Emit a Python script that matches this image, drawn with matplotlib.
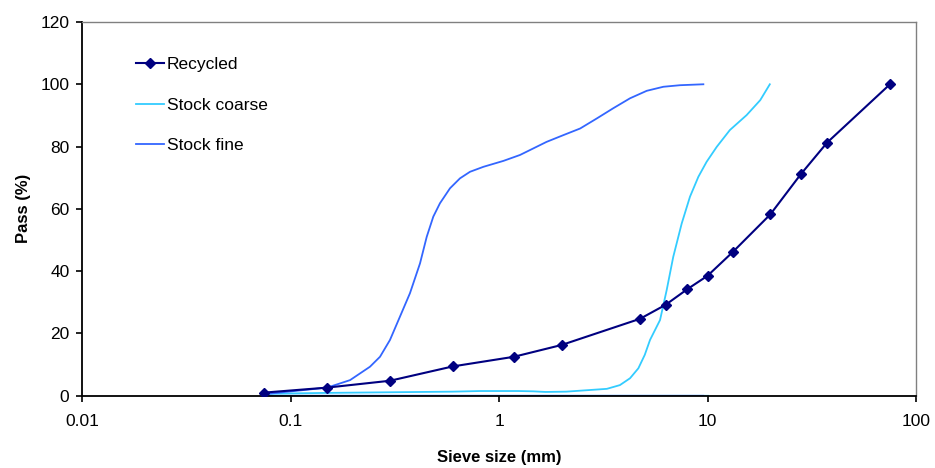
import matplotlib
matplotlib.use("Agg")
import matplotlib.pyplot as plt
from matplotlib.ticker import FixedLocator, NullLocator, FixedFormatter

plt.rcParams['font.family'] = ['Liberation Sans', 'DejaVu Sans']

# Recycled aggregate grading
recycled_x = [0.075, 0.15, 0.3, 0.6, 1.18, 2.0, 4.75, 6.3, 8.0, 10.0, 13.2, 20.0, 28.0, 37.5, 75.0]
recycled_y = [1.0, 2.6, 4.8, 9.4, 12.5, 16.3, 24.7, 29.2, 34.2, 38.5, 46.1, 58.2, 71.1, 81.3, 100.0]

# Stock coarse grading
coarse_x = [0.075, 0.15, 0.3, 0.6, 0.81, 1.24, 1.46, 1.67, 2.1, 2.44, 3.29, 3.8, 4.25, 4.66,
            5.0, 5.3, 5.92, 6.37, 6.85, 7.52, 8.24, 9.04, 9.9, 11.07, 12.8, 15.4, 17.9, 19.9]
coarse_y = [0.6, 0.9, 1.1, 1.3, 1.5, 1.5, 1.4, 1.2, 1.3, 1.6, 2.2, 3.4, 5.6, 8.8,
            13.1, 17.9, 24.3, 33.9, 44.6, 55.3, 63.9, 70.3, 75.1, 79.9, 85.3, 90.1, 94.9, 100.0]

# Stock fine grading
fine_x = [0.075, 0.15, 0.193, 0.2405, 0.2687, 0.3, 0.335, 0.374, 0.418, 0.45, 0.484, 0.521,
          0.582, 0.65, 0.726, 0.842, 1.05, 1.261, 1.41, 1.69, 2.04, 2.45, 2.94, 3.53, 4.25,
          5.11, 6.14, 7.38, 9.55]
fine_y = [0.5, 2.6, 5.0, 9.3, 12.5, 17.9, 25.4, 32.9, 42.5, 51.0, 57.5, 61.8,
          66.6, 69.8, 71.9, 73.5, 75.4, 77.3, 78.9, 81.5, 83.7, 85.8, 89.0, 92.3, 95.5,
          97.9, 99.2, 99.7, 100.0]

# Near-zero traces along the x axis
coarse_base_x = [0.075, 10.0]
coarse_base_y = [0.0, 0.0]
fine_base_x = [0.075, 9.5]
fine_base_y = [0.0, 0.0]

x_ticks = [0.01, 0.1, 1, 10, 100]
x_tick_labels = ['0.01', '0.1', '1', '10', '100']
y_ticks = [0, 20, 40, 60, 80, 100, 120]

navy = '#000080'
cyan = '#33CCFF'
blue = '#3366FF'

fig = plt.figure(figsize=(9.35, 4.68), dpi=100)
ax = fig.add_axes([0.0877, 0.1545, 0.892, 0.7985])

ax.plot(coarse_base_x, coarse_base_y, color=cyan, lw=1.6, zorder=2)
ax.plot(fine_base_x, fine_base_y, color=blue, lw=1.6, zorder=2)
ax.plot(coarse_x, coarse_y, color=cyan, lw=1.3, label='Stock coarse', zorder=3)
ax.plot(fine_x, fine_y, color=blue, lw=1.3, label='Stock fine', zorder=3)
ax.plot(recycled_x, recycled_y, color=navy, lw=1.5, marker='D', markersize=5.5,
        markerfacecolor=navy, markeredgecolor=navy, label='Recycled', zorder=4)

ax.set_xscale('log')
ax.set_xlim(0.01, 100)
ax.set_ylim(0, 120)
ax.xaxis.set_major_locator(FixedLocator(x_ticks))
ax.xaxis.set_major_formatter(FixedFormatter(x_tick_labels))
ax.xaxis.set_minor_locator(NullLocator())
ax.set_yticks(y_ticks)

for s in ['top', 'right']:
    ax.spines[s].set_color('#808080')
    ax.spines[s].set_linewidth(1.0)
for s in ['left', 'bottom']:
    ax.spines[s].set_color('black')
    ax.spines[s].set_linewidth(1.3)

ax.tick_params(axis='both', which='major', direction='out', length=4, width=1.2,
               labelsize=12.5, colors='black')
ax.tick_params(axis='x', pad=9)
ax.tick_params(axis='y', pad=5)

ax.set_xlabel('Sieve size (mm)', fontsize=12, fontweight='bold', labelpad=15)
ax.set_ylabel('Pass (%)', fontsize=12, fontweight='bold', labelpad=7)

handles, labels = ax.get_legend_handles_labels()
order = [labels.index('Recycled'), labels.index('Stock coarse'), labels.index('Stock fine')]
leg = ax.legend([handles[i] for i in order], [labels[i] for i in order],
                loc='upper left', bbox_to_anchor=(124 / 935, 1 - 45 / 468),
                bbox_transform=fig.transFigure, frameon=False, fontsize=12.5,
                handlelength=1.6, handletextpad=0.15, labelspacing=1.45,
                borderpad=0.2, markerscale=0.9)

fig.savefig('out.png', dpi=100)
